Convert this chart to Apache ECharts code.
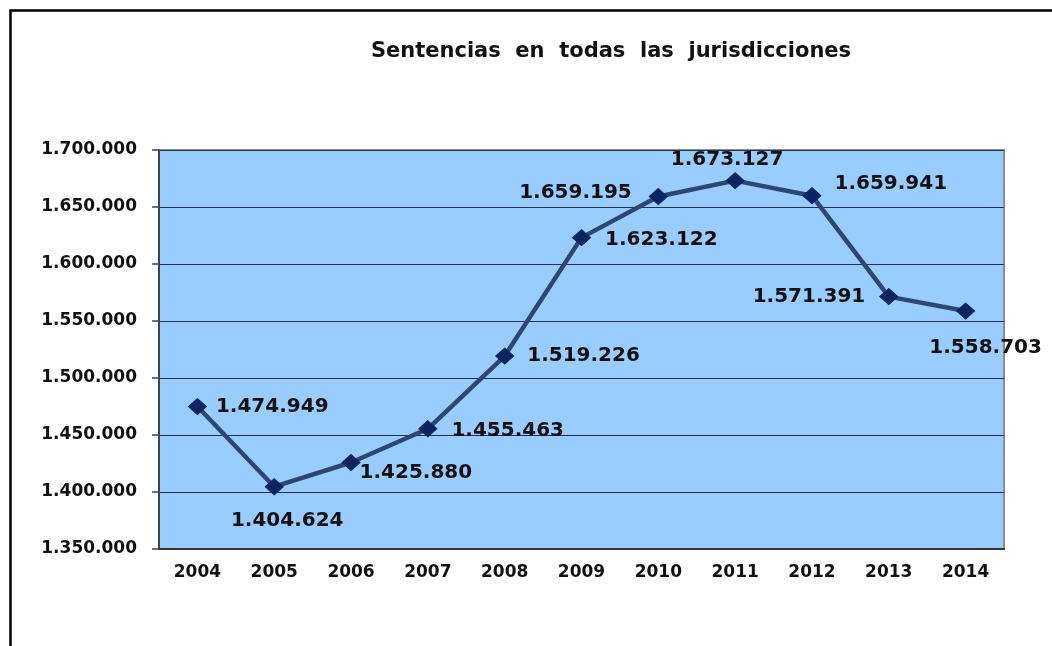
<!DOCTYPE html>
<html>
<head>
<meta charset="utf-8">
<script src="https://cdn.jsdelivr.net/npm/echarts@6/dist/echarts.min.js"></script>
<style>
  html, body { margin: 0; padding: 0; background: #fff; }
  #chart { width: 1052px; height: 646px; }
</style>
</head>
<body>
<div id="chart"></div>
<script>
// data
const years = ['2004', '2005', '2006', '2007', '2008', '2009', '2010', '2011', '2012', '2013', '2014'];
const sentencias = [1474949, 1404624, 1425880, 1455463, 1519226, 1623122, 1659195, 1673127, 1659941, 1571391, 1558703];
const yMin = 1350000;
const yMax = 1700000;
const yStep = 50000;

// where each value label sits relative to its marker
const labelPlace = [
  ['right', 4, 0], ['bottom', 13, 11], ['right', -6, 10], ['right', 9, 2],
  ['right', 8, 0], ['right', 9, 2], ['left', -12, -4], ['top', -8, 3],
  ['right', 8, -12], ['left', -9, 0], ['bottom', 20, 13]
];

const fmt = (v) => String(v).replace(/\B(?=(\d{3})+(?!\d))/g, '.');
const FONT = '"DejaVu Sans", sans-serif';

const chart = echarts.init(document.getElementById('chart'), null, { renderer: 'canvas' });

chart.setOption({
  animation: false,
  backgroundColor: '#fff',
  title: {
    text: 'Sentencias  en  todas  las  jurisdicciones',
    left: 606,
    top: 36,
    textAlign: 'center',
    textStyle: { fontFamily: FONT, fontSize: 21, fontWeight: 'bold', color: '#111' },
  },
  graphic: [{
    type: 'rect',
    shape: { x: 10.5, y: 10.5, width: 1200, height: 800 },
    style: { fill: 'none', stroke: '#000', lineWidth: 2.5 },
    silent: true,
  }],
  grid: {
    left: 159, right: 48, top: 150, bottom: 97,
    show: true,
    backgroundColor: '#99CCFF',
    borderColor: '#8c8c8c',
    borderWidth: 2,
  },
  xAxis: {
    type: 'category',
    data: years,
    boundaryGap: true,
    axisLine: { lineStyle: { color: '#333', width: 2 } },
    axisTick: { length: 6, lineStyle: { color: '#333', width: 1.5 } },
    axisLabel: { margin: 15, color: '#111', fontFamily: FONT, fontSize: 17, fontWeight: 'bold' },
    splitLine: { show: false },
  },
  yAxis: {
    type: 'value',
    min: yMin, max: yMax, interval: yStep,
    axisLine: { show: true, lineStyle: { color: '#444', width: 2 } },
    axisTick: { show: true, length: 7, lineStyle: { color: '#444', width: 1.5 } },
    axisLabel: { margin: 22, color: '#111', fontFamily: FONT, fontSize: 17, fontWeight: 'bold', formatter: fmt },
    splitLine: { lineStyle: { color: '#23324a', width: 1.2 } },
  },
  series: [{
    type: 'line',
    data: sentencias.map((v, i) => ({
      value: v,
      label: {
        position: labelPlace[i][0],
        offset: [labelPlace[i][1], labelPlace[i][2]],
      },
    })),
    symbol: 'diamond',
    symbolSize: [18, 16],
    itemStyle: { color: '#0b2562', borderColor: '#0b2562' },
    lineStyle: { color: '#2d4870', width: 4.5 },
    label: {
      show: true,
      distance: 5,
      color: '#111',
      fontFamily: FONT,
      fontSize: 20,
      fontWeight: 'bold',
      formatter: (p) => fmt(p.value),
    },
    emphasis: { disabled: true },
    z: 3,
  }],
});
</script>
</body>
</html>
